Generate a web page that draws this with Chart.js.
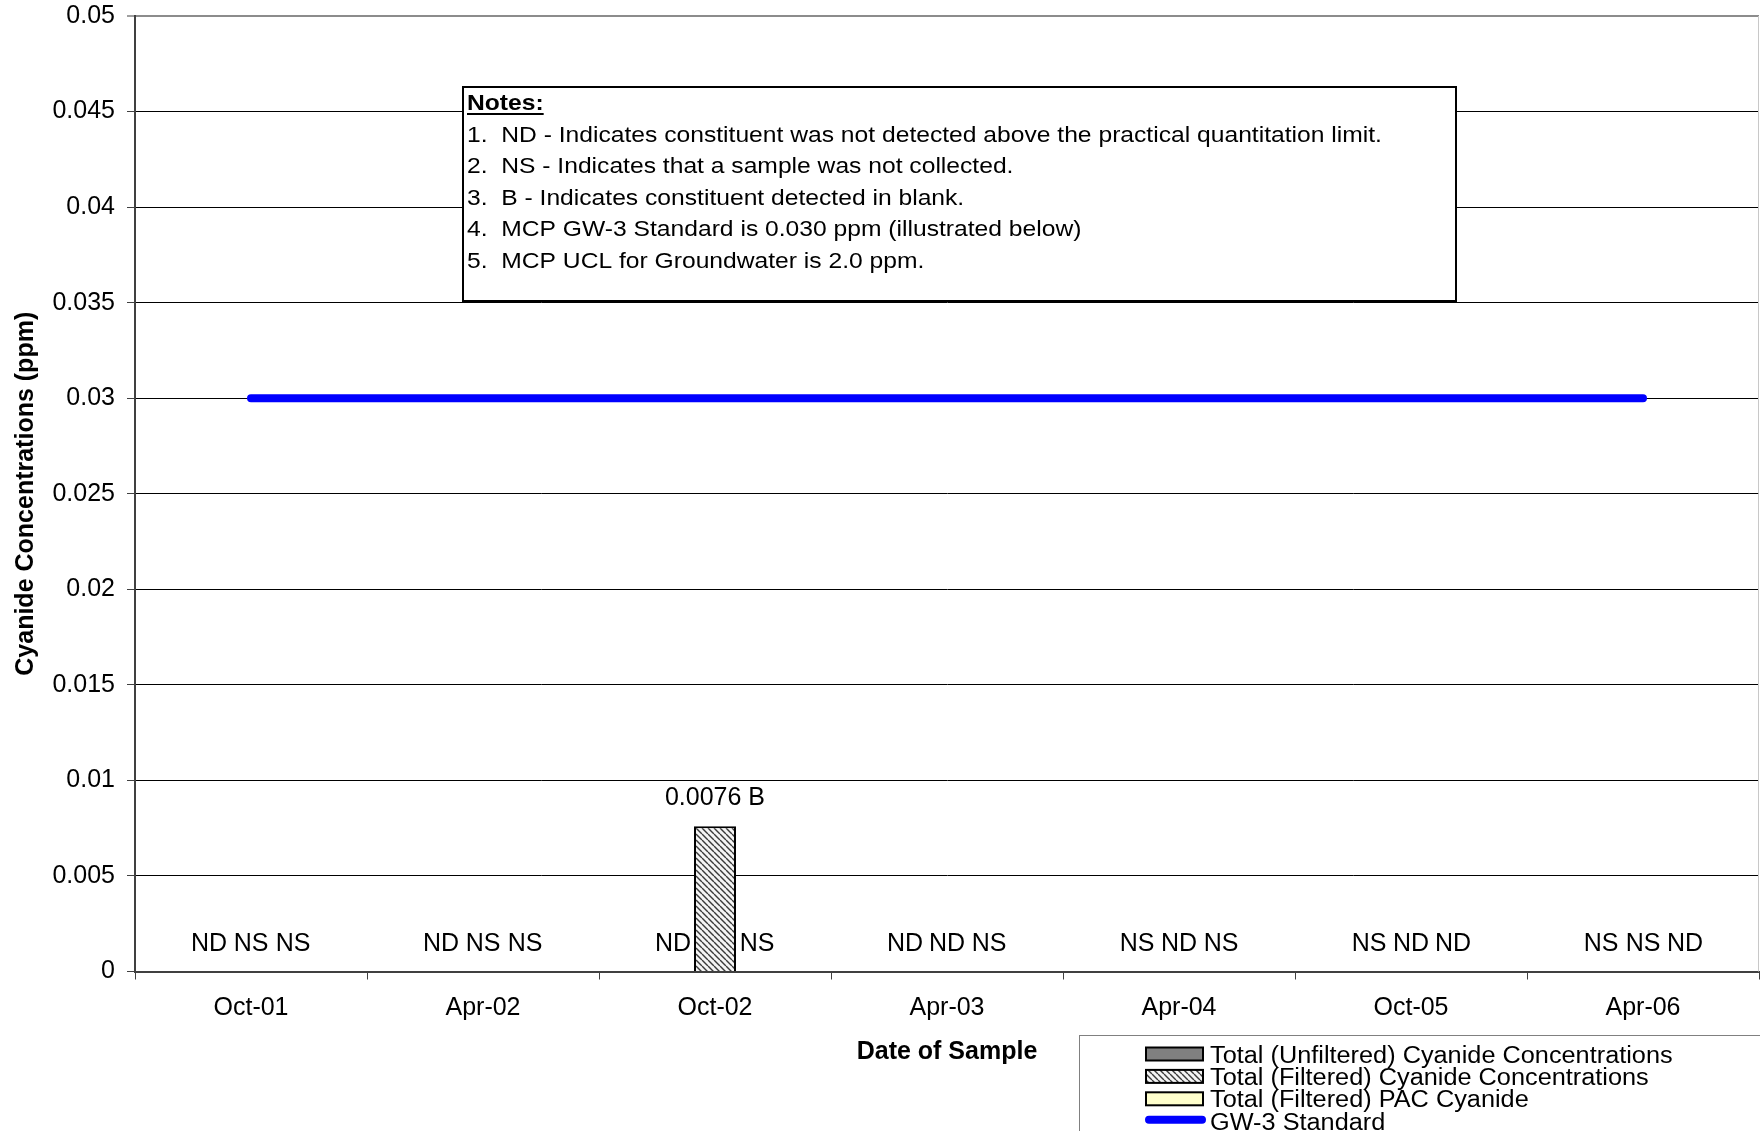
<!DOCTYPE html>
<html>
<head>
<meta charset="utf-8">
<title>Cyanide Concentrations</title>
<script src="https://cdn.jsdelivr.net/npm/chart.js@4.4.1/dist/chart.umd.min.js"></script>
<style>
  html, body { margin: 0; padding: 0; background: #fff; }
  canvas { display: block; }
</style>
</head>
<body>
<canvas id="cyanideChart" width="1760" height="1131"></canvas>
<script>
// sampling rounds
const dates = ['Oct-01', 'Apr-02', 'Oct-02', 'Apr-03', 'Apr-04', 'Oct-05', 'Apr-06'];

// concentrations in ppm (null = nothing measured)
const unfiltered = [null, null, null, null, null, null, null];
const filtered = [null, null, 0.0076, null, null, null, null];
const pacCyanide = [null, null, null, null, null, null, null];
const gw3Standard = [0.03, 0.03, 0.03, 0.03, 0.03, 0.03, 0.03];

// qualifiers written over each bar slot
const unfilteredFlags = ['ND', 'ND', 'ND', 'ND', 'NS', 'NS', 'NS'];
const filteredFlags = ['NS', 'NS', 'B', 'ND', 'ND', 'ND', 'NS'];
const pacFlags = ['NS', 'NS', 'NS', 'NS', 'NS', 'ND', 'ND'];

const seriesNames = [
    'Total (Unfiltered) Cyanide Concentrations',
    'Total (Filtered) Cyanide Concentrations',
    'Total (Filtered) PAC Cyanide',
    'GW-3 Standard'
];

const notes = [
    '1.  ND - Indicates constituent was not detected above the practical quantitation limit.',
    '2.  NS - Indicates that a sample was not collected.',
    '3.  B - Indicates constituent detected in blank.',
    '4.  MCP GW-3 Standard is 0.030 ppm (illustrated below)',
    '5.  MCP UCL for Groundwater is 2.0 ppm.'
];

const FONT = "'Liberation Sans', Arial, sans-serif";

const canvas = document.getElementById('cyanideChart');
const ctx = canvas.getContext('2d');

// diagonal hatch used for the filtered series
function makeHatch() {
    const size = 6;
    const tile = document.createElement('canvas');
    tile.width = size;
    tile.height = size;
    const g = tile.getContext('2d');
    g.fillStyle = '#f4f4f4';
    g.fillRect(0, 0, size, size);
    g.strokeStyle = '#3a3a3a';
    g.lineWidth = 1.4;
    g.beginPath();
    for (const k of [-size, 0, size]) {
        g.moveTo(k, 0);
        g.lineTo(k + size, size);
    }
    g.stroke();
    return ctx.createPattern(tile, 'repeat');
}

const hatch = makeHatch();
const flagSets = [unfilteredFlags, filteredFlags, pacFlags];

// ND / NS / value labels above each bar slot
const barLabels = {
    id: 'barLabels',
    afterDatasetsDraw(chart) {
        const c = chart.ctx;
        const yScale = chart.scales.y;
        const zeroY = yScale.getPixelForValue(0);
        c.save();
        c.font = `25px ${FONT}`;
        c.fillStyle = '#000';
        c.textAlign = 'center';
        c.textBaseline = 'middle';
        flagSets.forEach((flags, d) => {
            const meta = chart.getDatasetMeta(d);
            const values = chart.data.datasets[d].data;
            meta.data.forEach((bar, i) => {
                const v = values[i];
                if (v === null) {
                    c.fillText(flags[i], bar.x, zeroY - 27);
                } else {
                    c.fillText(`${v} ${flags[i]}`, bar.x, yScale.getPixelForValue(v) - 28);
                }
            });
        });
        c.restore();
    }
};

// light frame on the right side of the plot area
const plotFrame = {
    id: 'plotFrame',
    beforeDatasetsDraw(chart) {
        const { ctx: c, chartArea: a } = chart;
        c.save();
        c.strokeStyle = '#c8c8c8';
        c.lineWidth = 1;
        c.beginPath();
        c.moveTo(a.right - 0.5, a.top);
        c.lineTo(a.right - 0.5, a.bottom);
        c.stroke();
        c.restore();
    }
};

// notes text box inside the plot
const notesBox = {
    id: 'notesBox',
    afterDraw(chart) {
        const c = chart.ctx;
        const sx = 1.12;
        c.save();
        c.fillStyle = '#fff';
        c.fillRect(462, 86, 995, 216);
        c.strokeStyle = '#000';
        c.lineWidth = 2;
        c.strokeRect(463, 87, 993, 214);
        c.fillStyle = '#000';
        c.textAlign = 'left';
        c.textBaseline = 'alphabetic';

        c.font = `bold 22px ${FONT}`;
        const headW = c.measureText('Notes:').width * sx;
        c.save();
        c.translate(467, 110);
        c.scale(sx, 1);
        c.fillText('Notes:', 0, 0);
        c.restore();
        c.fillRect(467, 113, headW, 2);

        c.font = `22px ${FONT}`;
        notes.forEach((line, i) => {
            c.save();
            c.translate(467, 142 + 31.4 * i);
            c.scale(sx, 1);
            c.fillText(line, 0, 0);
            c.restore();
        });
        c.restore();
    }
};

// series key in the lower right corner
const seriesKey = {
    id: 'seriesKey',
    afterDraw(chart) {
        const c = chart.ctx;
        const sx = 1.10;
        c.save();
        c.fillStyle = '#fff';
        c.fillRect(1079, 1035, 700, 120);
        c.strokeStyle = '#808080';
        c.lineWidth = 1;
        c.strokeRect(1079.5, 1035.5, 700, 120);
        c.font = `23px ${FONT}`;
        c.textAlign = 'left';
        c.textBaseline = 'alphabetic';
        chart.data.datasets.forEach((ds, k) => {
            const base = 1062.5 + 22.4 * k;
            if (ds.type === 'line') {
                c.strokeStyle = ds.borderColor;
                c.lineWidth = ds.borderWidth;
                c.lineCap = 'round';
                c.beginPath();
                c.moveTo(1149, base - 10);
                c.lineTo(1202, base - 10);
                c.stroke();
            } else {
                c.fillStyle = ds.backgroundColor;
                c.fillRect(1146, base - 15, 57, 13);
                c.strokeStyle = '#000';
                c.lineWidth = 2;
                c.strokeRect(1146, base - 15, 57, 13);
            }
            c.fillStyle = '#000';
            c.save();
            c.translate(1210, base);
            c.scale(sx, 1);
            c.fillText(ds.label, 0, 0);
            c.restore();
        });
        c.restore();
    }
};

const barStyle = { borderColor: '#000', borderWidth: 2, order: 2 };

new Chart(ctx, {
    type: 'bar',
    data: {
        labels: dates,
        datasets: [
            { ...barStyle, label: seriesNames[0], data: unfiltered, backgroundColor: '#808080' },
            { ...barStyle, label: seriesNames[1], data: filtered, backgroundColor: hatch },
            { ...barStyle, label: seriesNames[2], data: pacCyanide, backgroundColor: '#ffffcc' },
            {
                type: 'line',
                label: seriesNames[3],
                data: gw3Standard,
                borderColor: '#0000ff',
                borderWidth: 8,
                borderCapStyle: 'round',
                pointRadius: 0,
                fill: false,
                order: 1
            }
        ]
    },
    options: {
        responsive: false,
        animation: false,
        devicePixelRatio: 1,
        datasets: {
            bar: { categoryPercentage: 0.543, barPercentage: 1 }
        },
        layout: { padding: { top: 16, right: 1, left: 0, bottom: 0 } },
        plugins: {
            legend: { display: false },
            tooltip: { enabled: false }
        },
        scales: {
            x: {
                grid: {
                    drawOnChartArea: false,
                    drawTicks: true,
                    tickLength: 8,
                    tickColor: '#404040',
                    tickWidth: 1
                },
                border: { color: '#404040', width: 2 },
                ticks: {
                    color: '#000',
                    font: { family: FONT, size: 25 },
                    padding: 14,
                    maxRotation: 0
                },
                title: {
                    display: true,
                    text: 'Date of Sample',
                    color: '#000',
                    font: { family: FONT, size: 25, weight: 'bold' },
                    padding: { top: 0, bottom: 63.5 }
                },
                afterFit(scale) { scale.height = 159.5; }
            },
            y: {
                min: 0,
                max: 0.05,
                ticks: {
                    stepSize: 0.005,
                    color: '#000',
                    font: { family: FONT, size: 25 },
                    padding: 12,
                    callback: v => String(+v.toFixed(3))
                },
                grid: {
                    color: c => c.tick && c.tick.value >= 0.0499 ? '#8c8c8c' : '#000',
                    lineWidth: c => c.tick && c.tick.value >= 0.0499 ? 2 : 1,
                    tickLength: 8,
                    tickColor: '#404040',
                    tickWidth: 1
                },
                border: { color: '#404040', width: 2 },
                title: {
                    display: true,
                    text: 'Cyanide Concentrations (ppm)',
                    color: '#000',
                    font: { family: FONT, size: 25, weight: 'bold' },
                    padding: { top: 11, bottom: 0 }
                },
                afterFit(scale) {
                    scale.width = 135;
                    scale.paddingTop = 0;
                    scale.paddingBottom = 0;
                }
            }
        }
    },
    plugins: [plotFrame, barLabels, notesBox, seriesKey]
});
</script>
</body>
</html>
